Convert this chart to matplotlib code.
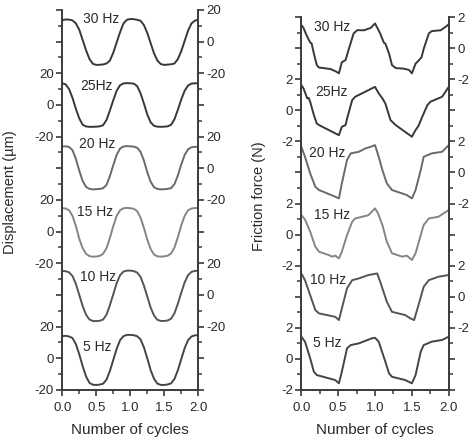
import numpy as np
import matplotlib
matplotlib.use("Agg")
import matplotlib.pyplot as plt
from matplotlib.ticker import MultipleLocator

plt.rcParams['font.family'] = ['Liberation Sans', 'DejaVu Sans']
plt.rcParams['axes.unicode_minus'] = False

# data
freqs = ['30 Hz', '25Hz', '20 Hz', '15 Hz', '10 Hz', '5 Hz']
line_colors = ['#383838', '#383838', '#6a6a6a', '#858585', '#555555', '#444444']

cycles = np.linspace(0, 2, 41)

disp_30 = [13.6, 14.0, 13.9, 13.4, 11.5, 7.5, 1.0, -5.5, -11.0, -14.0, -14.7, -14.6, -14.4, -13.8,
           -12.0, -7.0, -0.5, 6.0, 11.5, 13.8, 14.3, 14.2, 13.8, 13.2, 10.5, 5.5, -1.0, -7.5,
           -12.0, -14.2, -14.7, -14.5, -14.3, -13.8, -11.0, -6.0, 0.5, 7.0, 11.5, 13.3, 13.8]
disp_25 = [13.7, 13.0, 10.0, 4.5, -2.5, -8.5, -12.5, -13.6, -13.8, -13.8, -13.7, -13.5, -12.8, -9.5,
           -3.5, 3.0, 9.0, 12.5, 13.6, 13.8, 13.7, 13.5, 12.0, 7.5, 1.0, -6.0, -11.0, -13.2,
           -13.7, -13.8, -13.7, -13.5, -12.5, -9.0, -3.0, 3.5, 9.0, 12.3, 13.5, 13.7, 13.6]
disp_20 = [13.7, 13.9, 13.5, 11.5, 6.0, -1.5, -8.0, -11.8, -13.0, -13.3, -13.2, -13.0, -12.6, -10.5,
           -5.0, 2.0, 8.5, 12.5, 13.8, 14.0, 13.9, 13.7, 13.0, 10.5, 5.0, -2.5, -8.5, -12.0,
           -13.0, -13.3, -13.2, -13.0, -12.5, -10.0, -4.5, 2.5, 8.5, 12.0, 13.3, 13.6, 13.5]
disp_15 = [14.8, 14.6, 13.5, 10.0, 3.5, -4.5, -10.5, -14.0, -15.5, -15.8, -15.7, -15.3, -14.0, -10.5,
           -4.0, 3.5, 10.0, 13.5, 14.8, 15.0, 14.8, 14.5, 13.0, 9.0, 2.5, -5.0, -11.0, -14.5,
           -15.6, -15.8, -15.6, -15.2, -13.8, -10.0, -3.5, 4.0, 10.0, 13.5, 14.6, 14.9, 14.8]
disp_10 = [15.2, 15.0, 14.3, 12.0, 7.0, 0.0, -7.0, -12.5, -15.5, -16.4, -16.5, -16.3, -15.5, -12.5,
           -6.5, 0.5, 7.5, 12.5, 14.8, 15.4, 15.4, 15.1, 14.2, 11.5, 6.0, -1.0, -8.0, -13.0,
           -15.7, -16.4, -16.4, -16.1, -15.0, -11.5, -5.5, 1.5, 8.0, 12.5, 14.6, 15.2, 15.3]
disp_5 = [14.0, 14.2, 13.8, 12.8, 9.0, 2.5, -5.0, -11.5, -15.5, -16.7, -16.8, -16.6, -16.0, -13.5,
          -8.0, -1.0, 6.0, 11.5, 14.0, 14.8, 14.8, 14.6, 14.0, 12.0, 7.0, 0.0, -7.5, -13.0,
          -16.0, -16.8, -16.8, -16.5, -15.8, -13.0, -7.5, -0.5, 6.5, 11.5, 13.8, 14.5, 14.6]
disp = [disp_30, disp_25, disp_20, disp_15, disp_10, disp_5]

fric_30_x = [0, 0.03, 0.06, 0.10, 0.12, 0.14, 0.17, 0.21, 0.24, 0.30, 0.40, 0.47, 0.51, 0.55, 0.60,
             0.64, 0.71, 0.76, 0.85, 0.94, 1.00, 1.07, 1.12, 1.14, 1.19, 1.23, 1.28, 1.39, 1.46,
             1.50, 1.55, 1.59, 1.63, 1.66, 1.73, 1.77, 1.89, 1.98, 2.0]
fric_30 = [1.49, 1.3, 0.95, 0.55, 0.37, 0.3, -0.34, -1.09, -1.25, -1.28, -1.35, -1.5, -1.62, -0.9, -0.77,
           -0.12, 0.95, 1.16, 1.15, 1.3, 1.59, 0.95, 0.35, 0.3, -0.34, -1.09, -1.28, -1.32, -1.4,
           -1.62, -1.0, -0.8, -0.6, -0.05, 0.95, 1.1, 1.15, 1.45, 1.55]
fric_25_x = [0, 0.03, 0.08, 0.10, 0.12, 0.17, 0.21, 0.24, 0.51, 0.55, 0.60, 0.62, 0.69, 0.73, 1.00,
             1.05, 1.10, 1.14, 1.21, 1.28, 1.50, 1.55, 1.59, 1.64, 1.71, 1.75, 1.91, 2.0]
fric_25 = [1.62, 1.41, 0.77, 0.8, 0.55, -0.3, -0.85, -0.95, -1.6, -1.06, -0.95, -0.55, 0.66, 0.87, 1.51,
           1.09, 0.77, 0.44, -0.63, -0.95, -1.7, -1.27, -1.0, -0.42, 0.33, 0.55, 0.87, 1.51]
fric_20_x = [0, 0.05, 0.12, 0.19, 0.24, 0.46, 0.51, 0.55, 0.62, 0.67, 0.78, 0.87, 0.94, 1.00, 1.05,
             1.10, 1.16, 1.23, 1.43, 1.50, 1.55, 1.62, 1.66, 1.77, 1.91, 2.0]
fric_20 = [1.65, 1.01, -0.06, -0.92, -1.13, -1.56, -1.67, -0.7, 0.8, 1.23, 1.33, 1.55, 1.65, 1.76, 1.01,
           0.15, -0.7, -1.13, -1.45, -1.67, -1.13, 0.15, 1.01, 1.23, 1.33, 1.76]
fric_15_x = [0, 0.05, 0.12, 0.19, 0.24, 0.37, 0.42, 0.46, 0.51, 0.55, 0.62, 0.69, 0.73, 0.91, 1.00,
             1.04, 1.10, 1.16, 1.23, 1.37, 1.43, 1.50, 1.55, 1.62, 1.66, 1.73, 1.86, 2.0]
fric_15 = [1.26, 0.97, 0.19, -0.78, -1.1, -1.31, -1.42, -1.35, -1.53, -1.1, -0.03, 0.83, 1.04, 1.25, 1.69,
           1.37, 0.62, -0.45, -1.2, -1.42, -1.35, -1.63, -1.2, -0.03, 0.62, 1.04, 1.15, 1.58]
fric_10_x = [0, 0.05, 0.12, 0.19, 0.24, 0.46, 0.51, 0.55, 0.62, 0.69, 0.78, 0.91, 1.03, 1.07, 1.16,
             1.23, 1.41, 1.48, 1.53, 1.59, 1.66, 1.73, 1.86, 2.0]
fric_10 = [1.5, 1.07, 0.11, -0.86, -1.07, -1.29, -1.5, -0.75, 0.54, 1.07, 1.18, 1.4, 1.5, 0.97, -0.32,
           -0.97, -1.18, -1.39, -1.5, -0.53, 0.64, 1.07, 1.29, 1.4]
fric_5_x = [0, 0.05, 0.12, 0.17, 0.21, 0.46, 0.51, 0.55, 0.62, 0.67, 0.78, 0.96, 1.00, 1.05, 1.14,
            1.19, 1.23, 1.41, 1.50, 1.55, 1.62, 1.66, 1.77, 1.91, 2.0]
fric_5 = [1.43, 1.11, 0.04, -0.82, -1.04, -1.36, -1.57, -0.82, 0.68, 0.89, 1.0, 1.33, 1.36, 1.11, -0.18,
          -0.93, -1.15, -1.36, -1.57, -1.04, 0.46, 0.89, 1.11, 1.22, 1.43]
fric_x = [fric_30_x, fric_25_x, fric_20_x, fric_15_x, fric_10_x, fric_5_x]
fric = [fric_30, fric_25, fric_20, fric_15, fric_10, fric_5]

disp_label_pos = [(0.30, 14.3), (0.26, 12.0), (0.245, 15.4), (0.21, 12.6), (0.26, 11.5), (0.31, 7.3)]
fric_label_pos = [(0.17, 1.38), (0.19, 1.19), (0.10, 1.23), (0.17, 1.26), (0.12, 1.08), (0.155, 1.0)]

fig = plt.figure(figsize=(4.74, 4.45), dpi=100)
ax_d = fig.add_axes([0.1314, 0.1236, 0.2869, 0.854])
ax_f = fig.add_axes([0.6357, 0.1236, 0.311, 0.838])

ink = '#2a2a2a'


def stacked(ax, step, tick_txt, xs_list, ys_list, label_pos, ylabel, lab_x):
    n = len(freqs)
    lo, hi = -step / 2, step * (n - 0.5)
    for i in range(n):
        off = step * (n - 1 - i)
        ax.plot(xs_list[i], np.array(ys_list[i]) + off, color=line_colors[i], lw=1.4)
        ax.text(label_pos[i][0], label_pos[i][1] + off, freqs[i], fontsize=10,
                color=ink, ha='left', va='center')
    ax.set_xlim(0, 2)
    ax.set_ylim(lo, hi)

    ax2 = ax.twinx()
    ax2.set_ylim(lo, hi)

    # major ticks at every panel centre and boundary
    major = [lo + k * step / 2 for k in range(2 * n + 1)]
    left_lab = [''] * len(major)
    right_lab = [''] * len(major)
    # panels counted from the bottom: 5, 15, 25 Hz labelled left; 10, 20, 30 Hz right
    for j in range(n):
        centre = step * j
        for v, t in zip([centre + step / 2, centre, centre - step / 2], tick_txt):
            k = int(round((v - lo) / (step / 2)))
            if j % 2 == 0:
                left_lab[k] = t
            else:
                right_lab[k] = t
    ax.set_yticks(major)
    ax.set_yticklabels(left_lab)
    ax2.set_yticks(major)
    ax2.set_yticklabels(right_lab)
    ax.yaxis.set_minor_locator(MultipleLocator(step / 4))
    ax2.yaxis.set_minor_locator(MultipleLocator(step / 4))

    ax.set_xticks([0, 0.5, 1.0, 1.5, 2.0])
    ax.set_xticklabels(['0.0', '0.5', '1.0', '1.5', '2.0'])
    ax.xaxis.set_minor_locator(MultipleLocator(0.25))

    for a in (ax, ax2):
        a.spines['top'].set_visible(False)
        for s in a.spines.values():
            s.set_color('#3a3a3a')
            s.set_linewidth(1.4)
        a.tick_params(which='major', direction='out', length=4, width=1.2, color='#3a3a3a',
                      labelsize=9.5, labelcolor=ink, pad=2)
        a.tick_params(which='minor', direction='out', length=3, width=1.1, color='#3a3a3a')
    ax.spines['right'].set_visible(False)
    ax2.spines['left'].set_visible(False)
    ax2.spines['bottom'].set_visible(False)
    ax.tick_params(axis='x', pad=5)

    ax.set_xlabel('Number of cycles', fontsize=11, color=ink, labelpad=6)
    ax.set_ylabel(ylabel, fontsize=10.5, color=ink)
    ax.yaxis.set_label_coords(lab_x, 0.52)


stacked(ax_d, 40, ['20', '0', '-20'], [cycles] * 6, disp, disp_label_pos,
        'Displacement (\u00b5m)', -0.335)
stacked(ax_f, 4, ['2', '0', '-2'], fric_x, fric, fric_label_pos,
        'Friction force (N)', -0.24)

fig.savefig('out.png', dpi=100)
